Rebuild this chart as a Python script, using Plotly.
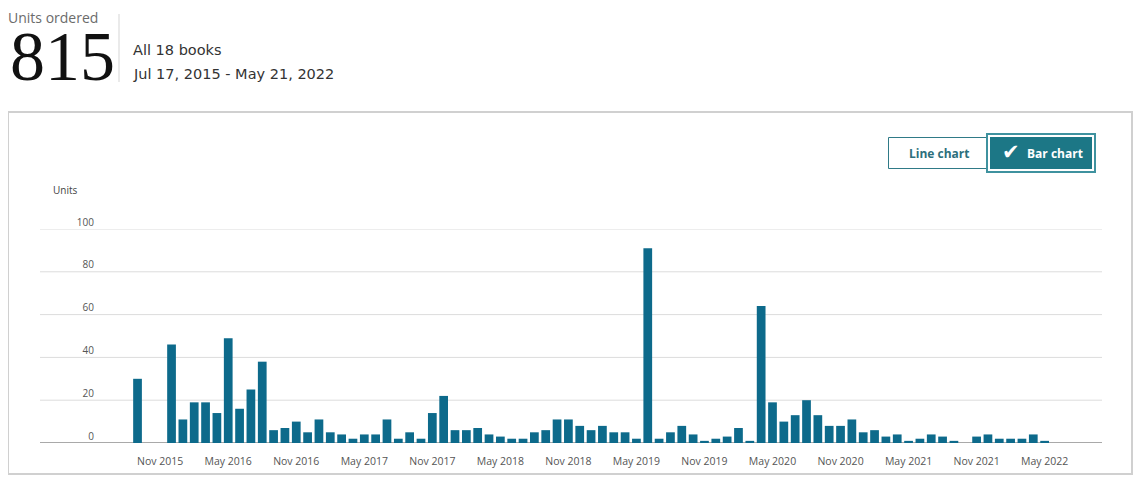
import pandas as pd
import plotly.graph_objects as go

# ---------------- data ----------------
months = [p.strftime("%Y-%m") for p in pd.period_range("2015-07", "2022-05", freq="M")]
units = [0, 0, 30, 0, 0, 46, 11, 19, 19, 14, 49, 16, 25, 38, 6, 7, 10, 5,
         11, 5, 4, 2, 4, 4, 11, 2, 5, 2, 14, 22,
         6, 6, 7, 4, 3, 2, 2, 5, 6, 11, 11, 8,
         6, 8, 5, 5, 2, 91, 2, 5, 8, 4, 1, 2,
         3, 7, 1, 64, 19, 10, 13, 20, 13, 8, 8, 11,
         5, 6, 3, 4, 1, 2, 4, 3, 1, 0, 3, 4,
         2, 2, 2, 4, 1]
tick_months = ["2015-11", "2016-05", "2016-11", "2017-05", "2017-11", "2018-05",
               "2018-11", "2019-05", "2019-11", "2020-05", "2020-11", "2021-05",
               "2021-11", "2022-05"]
tick_text = ["Nov 2015", "May 2016", "Nov 2016", "May 2017", "Nov 2017", "May 2018",
             "Nov 2018", "May 2019", "Nov 2019", "May 2020", "Nov 2020", "May 2021",
             "Nov 2021", "May 2022"]
y_ticks = [0, 20, 40, 60, 80, 100]

# ---------------- layout geometry (page pixels) ----------------
OFF = 8                      # page body margin
W, H = 1146 - 2 * OFF, 492 - 2 * OFF
L, R, T, B = 95, 1102, 229, 443   # plot area in page pixels
BAR = "#0d6a8b"
TEAL = "#1c7786"


def px(x):
    return (x - L) / (R - L)


def py(y):
    return (B - y) / (B - T)


fig = go.Figure(go.Bar(x=months, y=units, marker_color=BAR, marker_line_width=0,
                       hoverinfo="x+y"))

shapes = []
shapes.append(dict(type="rect", xref="paper", yref="paper", x0=px(8), x1=px(1132),
                   y0=py(112), y1=py(474), line=dict(color="#d0d0d0", width=2),
                   layer="below"))
for v in y_ticks:
    shapes.append(dict(type="line", xref="paper", yref="y", x0=px(40), x1=1,
                       y0=v, y1=v, layer="below",
                       line=dict(color="#a9a9a9" if v == 0 else "#dcdcdc",
                                 width=2 if v == 0 else 1)))
shapes.append(dict(type="line", xref="paper", yref="paper", x0=px(119), x1=px(119),
                   y0=py(14), y1=py(82), line=dict(color="#d5d5d5", width=1)))
shapes.append(dict(type="rect", xref="paper", yref="paper", x0=px(888.5), x1=px(987),
                   y0=py(137.5), y1=py(168.5), line=dict(color="#2f7a87", width=1),
                   fillcolor="white"))
shapes.append(dict(type="rect", xref="paper", yref="paper", x0=px(987), x1=px(1095),
                   y0=py(134), y1=py(172), line=dict(color="#3f929f", width=2),
                   fillcolor="white"))
shapes.append(dict(type="rect", xref="paper", yref="paper", x0=px(990), x1=px(1092),
                   y0=py(137), y1=py(169), line=dict(width=0), fillcolor=TEAL))

SANS = "Open Sans, Noto Sans, sans-serif"
HEAD = "DejaVu Sans, sans-serif"
ann = [
    dict(text="Units ordered", x=px(7), y=py(16.5), xanchor="left", yanchor="middle",
         font=dict(family=SANS, size=14, color="#6b6b6b"), height=12, borderpad=0),
    dict(text="815", x=px(8), y=py(56), xanchor="left", yanchor="middle",
         font=dict(family="Liberation Serif, serif", size=70, color="#111111"),
         height=52),
    dict(text="All 18 books", x=px(131), y=py(50), xanchor="left", yanchor="middle",
         font=dict(family=HEAD, size=14.5, color="#333333")),
    dict(text="Jul 17, 2015 - May 21, 2022", x=px(131), y=py(74), xanchor="left",
         yanchor="middle", font=dict(family=HEAD, size=14.5, color="#333333")),
    dict(text="Units", x=px(51), y=py(190), xanchor="left", yanchor="middle",
         font=dict(family=SANS, size=10, color="#444444")),
    dict(text="<b>Line chart</b>", x=px(939), y=py(153), xanchor="center",
         yanchor="middle", font=dict(family=SANS, size=12, color="#2d6f7c")),
    dict(text="<b>✔</b>", x=px(1011), y=py(152), xanchor="center", yanchor="middle",
         font=dict(family="DejaVu Sans", size=21, color="white")),
    dict(text="<b>Bar chart</b>", x=px(1055), y=py(153), xanchor="center",
         yanchor="middle", font=dict(family=SANS, size=12, color="white")),
]
for a in ann:
    a.update(xref="paper", yref="paper", showarrow=False)

fig.update_layout(
    width=W, height=H,
    margin=dict(l=L - OFF, r=W - (R - OFF), t=T - OFF, b=H - (B - OFF), pad=0),
    paper_bgcolor="white", plot_bgcolor="white",
    bargap=0.23, showlegend=False,
    shapes=shapes, annotations=ann,
    xaxis=dict(type="category", range=[-1.75, 87.06], tickmode="array",
               tickvals=tick_months, ticktext=tick_text, showgrid=False,
               zeroline=False, showline=False, ticks="",
               ticklabelstandoff=10,
               tickfont=dict(family=SANS, size=10.5, color="#555555")),
    yaxis=dict(range=[0, 100], tickmode="array", tickvals=y_ticks,
               showgrid=False, zeroline=False, showline=False, ticks="",
               ticklabelshift=-7,
               tickfont=dict(family=SANS, size=10, color="#555555")),
)

fig.write_html("out.html")
